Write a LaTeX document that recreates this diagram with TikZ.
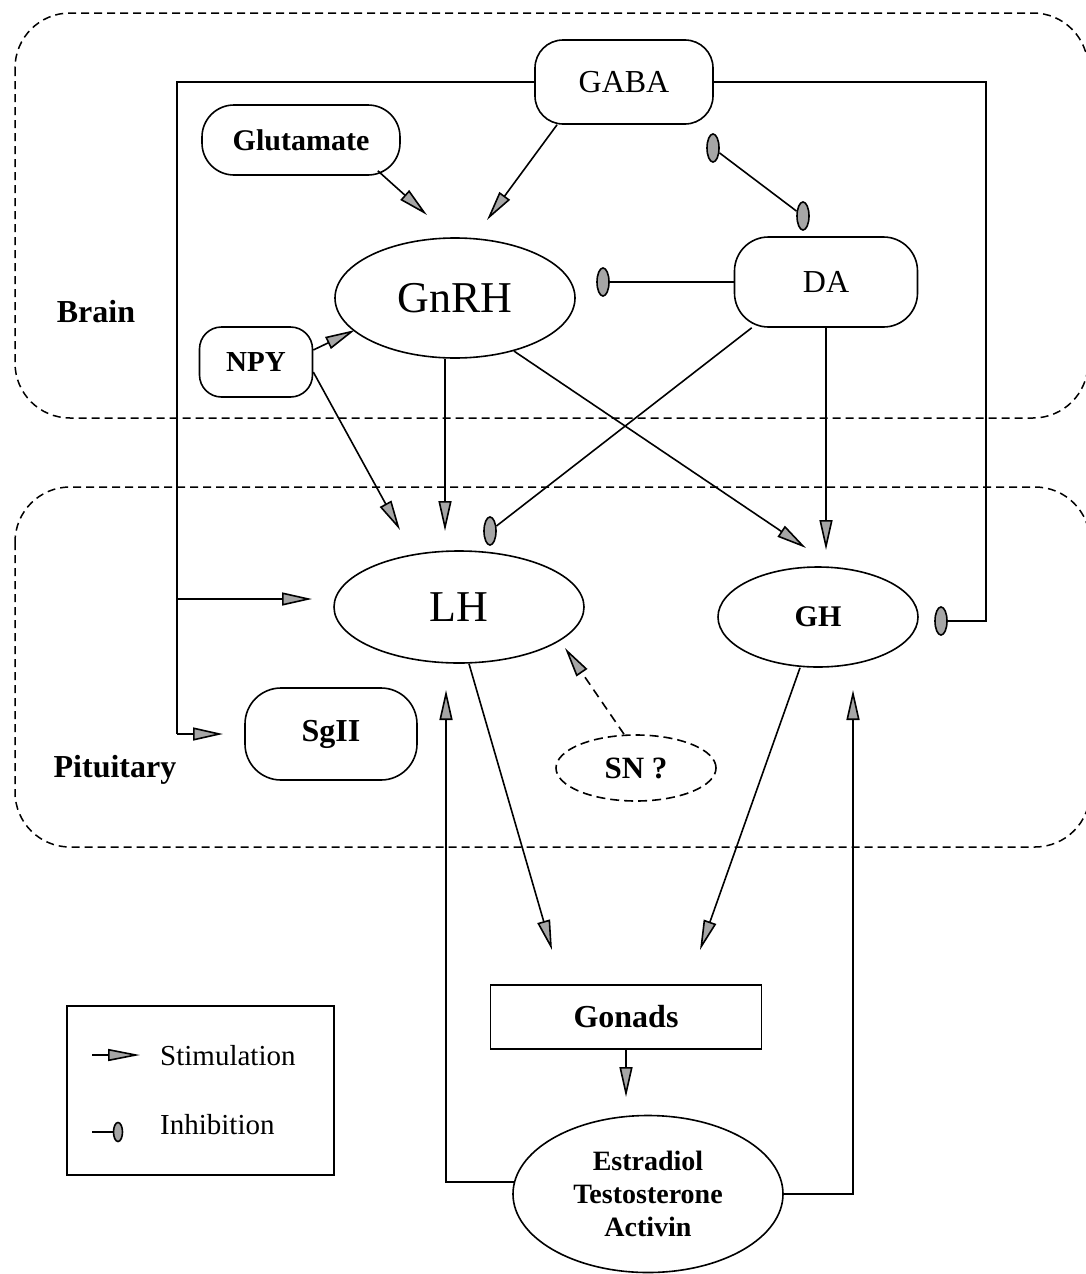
\documentclass[tikz,border=0pt]{standalone}
\usepackage{fontspec}
\setmainfont{Liberation Serif}
\usetikzlibrary{arrows.meta,shapes.geometric,calc}
\begin{document}
\begin{tikzpicture}[x=1pt,y=-1pt,
  lw/.style={line width=1.6pt},
  link/.style={lw},
  stim/.style={lw,-{Triangle[length=30pt,width=13pt,fill=gray!70]}},
  inh/.style={ellipse,draw,lw,fill=gray!70,minimum width=12pt,minimum height=28pt,inner sep=0pt},
  rbox/.style={draw,lw,rectangle,inner sep=0pt},
  oval/.style={draw,lw,ellipse,inner sep=0pt},
  region/.style={draw,line width=1.5pt,dash pattern=on 8pt off 5pt,rounded corners=55pt},
  fn/.style={font=\fontsize{#1}{#1}\selectfont},
  fb/.style={font=\bfseries\fontsize{#1}{#1}\selectfont}
]
\useasboundingbox (0,0) rectangle (1086,1274);

% regions
\draw[region] (15,13) rectangle (1088,418);
\draw[region] (15,487) rectangle (1090,847);

% nodes
\node[rbox,rounded corners=28pt,minimum width=178pt,minimum height=84pt,fn=32] (gaba) at (624,82) {GABA};
\node[rbox,rounded corners=32pt,minimum width=198pt,minimum height=70pt,fb=30] (glu) at (301,140) {Glutamate};
\node[oval,minimum width=240pt,minimum height=120pt,fn=44] (gnrh) at (455,298) {GnRH};
\node[rbox,rounded corners=34pt,minimum width=183pt,minimum height=90pt,fn=32] (da) at (826,282) {DA};
\node[rbox,rounded corners=22pt,minimum width=113pt,minimum height=70pt,fb=29] (npy) at (256,362) {NPY};
\node[oval,minimum width=250pt,minimum height=112pt,fn=44] (lh) at (459,607) {LH};
\node[oval,minimum width=200pt,minimum height=100pt,fb=30] (gh) at (818,617) {GH};
\node[rbox,rounded corners=36pt,minimum width=172pt,minimum height=92pt,fb=32] (sg) at (331,734) {SgII};
\node[oval,dash pattern=on 9pt off 5pt,minimum width=160pt,minimum height=66pt,fb=31] (sn) at (636,768) {SN ?};
\node[draw,lw,minimum width=271pt,minimum height=64pt,fb=32] (gon) at (626,1017) {Gonads};
\node[oval,minimum width=270pt,minimum height=157pt,align=center,font=\bfseries\fontsize{28}{33}\selectfont] (est) at (648,1194) {Estradiol\\Testosterone\\Activin};

\node[fb=32] (brain) at (96,312) {Brain};
\node[fb=32] (pit) at (115,770) {Pituitary};

% inhibition markers
\node[inh] (iGn) at (603,282) {};
\node[inh] (iLH) at (490,531) {};
\node[inh] (iGH) at (941,621) {};
\node[inh] (iA) at (713,148) {};
\node[inh] (iB) at (803,216) {};

% free ends
\coordinate (t1) at (487,220);
\coordinate (t2) at (427,215);
\coordinate (jL) at (177,599);
\coordinate (tLH) at (312,599);
\coordinate (cS) at (177,734);
\coordinate (tS) at (223,734);
\coordinate (cR) at (986,621);
\coordinate (t7) at (355,330);
\coordinate (t8) at (400,530);
\coordinate (t9) at (445,531);
\coordinate (t10) at (806,548);
\coordinate (t12) at (826,550);
\coordinate (t13) at (552,950);
\coordinate (t14) at (700,950);
\coordinate (t15) at (565,648);
\coordinate (t16) at (626,1097);
\coordinate (t17) at (446,690);
\coordinate (t18) at (853,690);

% connectors
\draw[stim] ($(gaba.south)+(-67,0)$) -- (t1);
\draw[stim] ($(glu.south east)+(-23,-5)$) -- (t2);
\draw[link] (gaba.west) -| (cS);
\draw[stim] (cS) -- (tS);
\draw[stim] (jL) -- (tLH);
\draw[link] (gaba.east) -| (cR) -- (iGH);
\draw[link] (iA) -- (iB);
\draw[link] (da.west) -- (iGn);
\draw[stim] ($(npy.east)+(0,-12)$) -- (t7);
\draw[stim] ($(npy.east)+(0,10)$) -- (t8);
\draw[stim] (gnrh.south -| t9) -- (t9);
\draw[stim] (gnrh.-42) -- (t10);
\draw[link] ($(da.south west)+(18,0)$) -- (iLH);
\draw[stim] (da.south) -- (t12);
\draw[stim] ($(lh.south)+(10,0)$) -- (t13);
\draw[stim] ($(gh.south)+(-18,0)$) -- (t14);
\draw[stim,dash pattern=on 9pt off 6pt] ($(sn.north)+(-12,0)$) -- (t15);
\draw[stim] (gon.south) -- (t16);
\draw[stim] (est.175) -| (t17);
\draw[stim] (est.east) -| (t18);

% legend
\node[draw,lw,minimum width=267pt,minimum height=169pt] (leg) at (200.5,1090.5) {};
\coordinate (ls1) at (92,1055);
\coordinate (ls2) at (140,1055);
\draw[lw,-{Triangle[length=32pt,width=12pt,fill=gray!70]}] (ls1) -- (ls2);
\node[inh,minimum width=9pt,minimum height=19pt] (iLeg) at (118,1132) {};
\coordinate (li1) at (92,1132);
\draw[link] (li1) -- (iLeg);
\node[anchor=west,inner sep=0pt,fn=29] (tst) at (160,1056) {Stimulation};
\node[anchor=west,inner sep=0pt,fn=29] (tin) at (160,1125) {Inhibition};
\end{tikzpicture}
\end{document}
